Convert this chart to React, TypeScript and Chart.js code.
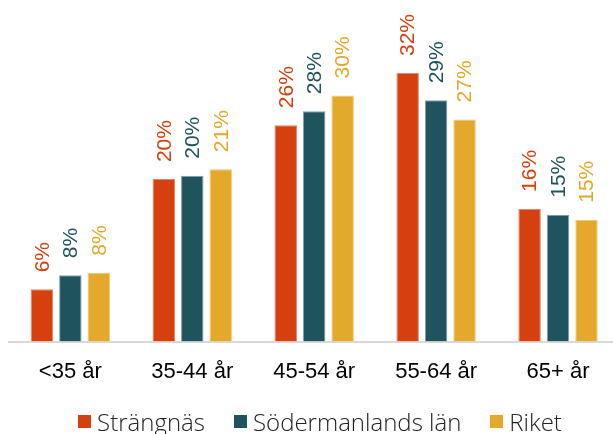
import React, { useEffect, useRef } from "react";
import { Chart, registerables } from "chart.js";

Chart.register(...registerables);

const categories = ["<35 år", "35-44 år", "45-54 år", "55-64 år", "65+ år"];
const seriesNames = ["Strängnäs", "Södermanlands län", "Riket"];
const strangnas = [6.3, 19.6, 26.1, 32.4, 16.0];
const sodermanland = [8.0, 20.0, 27.8, 29.1, 15.3];
const riket = [8.3, 20.8, 29.7, 26.8, 14.7];
const colors = ["#D6400F", "#1F545E", "#E4A82A"];
const borderColors = ["#E7836A", "#7FA0A6", "#F0CB80"];

const labelPlugin = {
  id: "barTopLabels",
  afterDatasetsDraw(chart: any) {
    const ctx = chart.ctx;
    ctx.save();
    ctx.font = "21px 'Liberation Sans', Arial, sans-serif";
    ctx.textAlign = "left";
    ctx.textBaseline = "middle";
    chart.data.datasets.forEach((ds: any, di: number) => {
      const meta = chart.getDatasetMeta(di);
      meta.data.forEach((bar: any, i: number) => {
        const v = ds.data[i];
        ctx.save();
        ctx.translate(bar.x, bar.y - 17);
        ctx.rotate(-Math.PI / 2);
        ctx.fillStyle = colors[di];
        ctx.fillText(Math.round(v) + "%", 0, 1);
        ctx.restore();
      });
    });
    ctx.restore();
  },
};

export default function App() {
  const ref = useRef<HTMLCanvasElement | null>(null);
  useEffect(() => {
    if (!ref.current) return;
    const data = [strangnas, sodermanland, riket];
    const chart = new Chart(ref.current, {
      type: "bar",
      data: {
        labels: categories,
        datasets: seriesNames.map((name, i) => ({
          label: name,
          data: data[i],
          backgroundColor: colors[i],
          borderColor: borderColors[i],
          borderWidth: 1,
          barPercentage: 0.79,
          categoryPercentage: 0.7,
        })),
      },
      options: {
        animation: false,
        responsive: true,
        maintainAspectRatio: false,
        layout: { padding: { left: 9.4, right: 21, top: 10, bottom: 32 } },
        plugins: { legend: { display: false }, tooltip: { enabled: false } },
        scales: {
          x: {
            grid: { display: false, drawTicks: false },
            border: { display: true, color: "#D9D9D9", width: 2 },
            ticks: {
              padding: 17,
              color: "#000",
              font: { family: "'Liberation Sans', Arial, sans-serif", size: 22 },
            },
          },
          y: { display: false, min: 0, max: 40 },
        },
      },
      plugins: [labelPlugin],
    });
    return () => chart.destroy();
  }, []);

  const legendFont = "'Open Sans', 'Noto Sans', sans-serif";
  return (
    <div style={{ position: "fixed", left: 0, top: 0, width: 613, height: 434, overflow: "hidden", background: "#fff" }}>
      <div style={{ position: "absolute", left: 0, top: 0, width: 640, height: 434 }}>
        <canvas ref={ref} />
      </div>
      <div
        style={{
          position: "absolute",
          left: 0,
          top: 406,
          width: 640,
          height: 30,
          display: "flex",
          justifyContent: "center",
          alignItems: "center",
          gap: 29,
          fontFamily: legendFont,
          fontWeight: 300,
          fontSize: 24,
          color: "#222",
        }}
      >
        {seriesNames.map((n, i) => (
          <div key={n} style={{ display: "flex", alignItems: "center" }}>
            <span style={{ display: "inline-block", width: 13, height: 13, background: colors[i], marginRight: 6 }} />
            <span>{n}</span>
          </div>
        ))}
      </div>
    </div>
  );
}
